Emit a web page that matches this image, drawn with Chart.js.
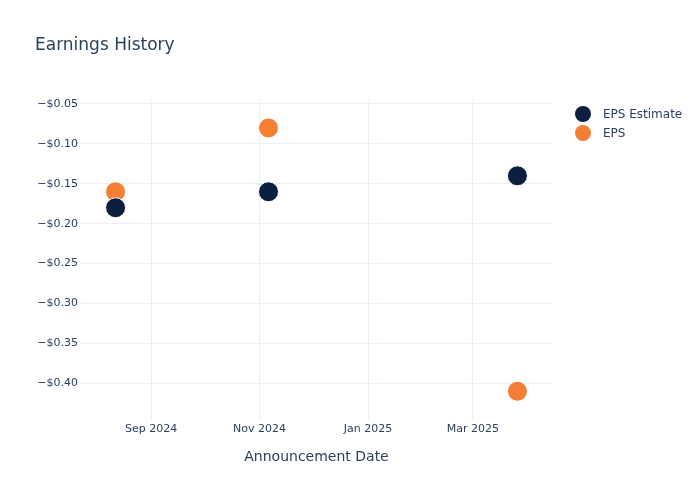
<!DOCTYPE html>
<html>
<head>
<meta charset="utf-8">
<script src="https://cdn.jsdelivr.net/npm/chart.js@4"></script>
<style>
    body { margin: 0; background: #fff; font-family: "DejaVu Sans", sans-serif; }
    #wrap { position: relative; width: 700px; height: 500px; }
    #title { position: absolute; left: 35px; top: 34px; font-size: 17px; color: #2a3f5f; }
    .leg { position: absolute; left: 575px; font-size: 12px; color: #2a3f5f; display: flex; align-items: center; }
    .dot { width: 16px; height: 16px; border-radius: 50%; margin-right: 12px; }
</style>
</head>
<body>
<div id="wrap">
    <canvas id="chart" width="700" height="500"></canvas>
    <div id="title">Earnings History</div>
    <div class="leg" style="top:106px"><span class="dot" style="background:#0d1f3f"></span>EPS Estimate</div>
    <div class="leg" style="top:125px"><span class="dot" style="background:#f57e35"></span>EPS</div>
</div>
<script>
// ==================== DATA ====================
const dates = ['2024-08-12', '2024-11-06', '2025-03-26'];
const estimates = [-0.18, -0.16, -0.14];
const actuals = [-0.16, -0.08, -0.41];
const tickDates = ['2024-09-01', '2024-11-01', '2025-01-01', '2025-03-01'];
const tickLabels = ['Sep 2024', 'Nov 2024', 'Jan 2025', 'Mar 2025'];

const toTs = s => Date.parse(s + 'T00:00:00Z');
const tickTs = tickDates.map(toTs);

function pts(vals) {
    return dates.map((d, i) => ({ x: toTs(d), y: vals[i] }));
}

Chart.defaults.font.family = '"DejaVu Sans", sans-serif';

new Chart(document.getElementById('chart'), {
    type: 'scatter',
    data: {
        datasets: [
            { label: 'EPS Estimate', data: pts(estimates), backgroundColor: '#0d1f3f', borderColor: '#fff', borderWidth: 1, pointRadius: 10, pointHoverRadius: 10 },
            { label: 'EPS', data: pts(actuals), backgroundColor: '#f57e35', borderColor: '#fff', borderWidth: 1, pointRadius: 10, pointHoverRadius: 10 }
        ]
    },
    options: {
        responsive: false,
        animation: false,
        layout: { padding: { top: 100, right: 147, left: 0, bottom: 34 } },
        plugins: { legend: { display: false }, tooltip: { enabled: false } },
        scales: {
            x: {
                type: 'linear',
                min: toTs('2024-07-23'),
                max: toTs('2025-04-15'),
                afterBuildTicks: s => { s.ticks = tickTs.map(v => ({ value: v })); },
                afterFit: s => { s.height = 46; },
                grid: { color: '#ebf0f8', drawTicks: false },
                border: { display: false },
                ticks: {
                    color: '#2a3f5f', font: { size: 11 }, padding: 3, maxRotation: 0,
                    callback: v => tickLabels[tickTs.indexOf(v)] || ''
                },
                title: { display: true, text: 'Announcement Date', color: '#2a3f5f', font: { size: 14 }, padding: 0 }
            },
            y: {
                min: -0.446,
                max: -0.045,
                afterBuildTicks: s => {
                    s.ticks = [];
                    for (let i = 1; i <= 8; i++) s.ticks.push({ value: -0.05 * i });
                },
                afterFit: s => { s.width = 80; },
                grid: { color: '#ebf0f8', drawTicks: false },
                border: { display: false },
                ticks: {
                    color: '#2a3f5f', font: { size: 11 }, padding: 2,
                    callback: v => '\u2212$' + Math.abs(v).toFixed(2)
                }
            }
        }
    }
});
</script>
</body>
</html>
